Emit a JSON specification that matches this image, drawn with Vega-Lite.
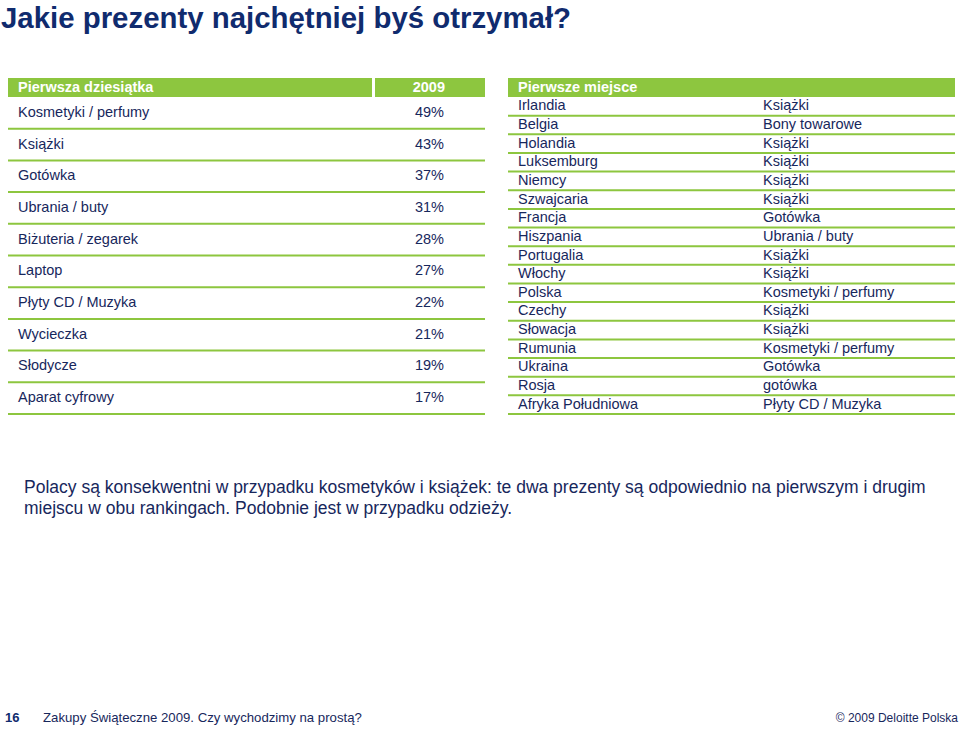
{
  "$schema": "https://vega.github.io/schema/vega-lite/v6.json",
  "padding": {"top": 3, "left": 0, "right": 0, "bottom": 0},
  "background": "white",
  "title": {
    "text": "Jakie prezenty najchętniej byś otrzymał?",
    "anchor": "start",
    "font": "Liberation Sans",
    "fontSize": 29.4,
    "fontWeight": "bold",
    "color": "#102b6e",
    "offset": 44,
    "dx": 1
  },
  "config": {
    "view": {"stroke": null},
    "text": {"font": "Liberation Sans", "fontSize": 14.5, "fill": "#17275c", "baseline": "middle"}
  },
  "spacing": 0,
  "resolve": {"scale": {"x": "independent", "y": "independent"}},
  "vconcat": [
    {
      "spacing": 0,
      "resolve": {"scale": {"x": "independent", "y": "independent"}},
      "hconcat": [
        {
          "width": 496,
          "height": 19,
          "data": {"values": [{"naglowek": "Pierwsza dziesiątka", "rok": "2009"}]},
          "layer": [
            {
              "mark": {"type": "rect", "fill": "#8dc63f"},
              "encoding": {
                "x": {"datum": 8, "type": "quantitative", "scale": {"domain": [0, 496], "nice": false, "zero": false}, "axis": null},
                "x2": {"datum": 372}
              }
            },
            {
              "mark": {"type": "rect", "fill": "#8dc63f"},
              "encoding": {
                "x": {"datum": 375, "type": "quantitative"},
                "x2": {"datum": 485}
              }
            },
            {
              "mark": {"type": "text", "align": "left", "fill": "white", "fontWeight": "bold"},
              "encoding": {"x": {"datum": 18, "type": "quantitative"}, "text": {"field": "naglowek"}}
            },
            {
              "mark": {"type": "text", "align": "right", "fill": "white", "fontWeight": "bold"},
              "encoding": {"x": {"datum": 445, "type": "quantitative"}, "text": {"field": "rok"}}
            }
          ]
        },
        {
          "width": 464,
          "height": 19,
          "data": {"values": [{"naglowek": "Pierwsze miejsce"}]},
          "layer": [
            {
              "mark": {"type": "rect", "fill": "#8dc63f"},
              "encoding": {
                "x": {"datum": 12, "type": "quantitative", "scale": {"domain": [0, 464], "nice": false, "zero": false}, "axis": null},
                "x2": {"datum": 459}
              }
            },
            {
              "mark": {"type": "text", "align": "left", "fill": "white", "fontWeight": "bold"},
              "encoding": {"x": {"datum": 22, "type": "quantitative"}, "text": {"field": "naglowek"}}
            }
          ]
        }
      ]
    },
    {
      "spacing": 0,
      "resolve": {"scale": {"x": "independent", "y": "independent"}},
      "hconcat": [
        {
          "width": 496,
          "height": 317,
          "data": {"values": [
            {"prezent": "Kosmetyki / perfumy", "udzial": 0.49},
            {"prezent": "Książki", "udzial": 0.43},
            {"prezent": "Gotówka", "udzial": 0.37},
            {"prezent": "Ubrania / buty", "udzial": 0.31},
            {"prezent": "Biżuteria / zegarek", "udzial": 0.28},
            {"prezent": "Laptop", "udzial": 0.27},
            {"prezent": "Płyty CD / Muzyka", "udzial": 0.22},
            {"prezent": "Wycieczka", "udzial": 0.21},
            {"prezent": "Słodycze", "udzial": 0.19},
            {"prezent": "Aparat cyfrowy", "udzial": 0.17}
          ]},
          "encoding": {
            "y": {"field": "prezent", "type": "nominal", "sort": null, "axis": null, "scale": {"type": "band", "paddingInner": 0, "paddingOuter": 0}}
          },
          "layer": [
            {
              "mark": {"type": "rule", "stroke": "#8dc63f", "strokeWidth": 2},
              "encoding": {
                "y": {"field": "prezent", "type": "nominal", "sort": null, "bandPosition": 1},
                "x": {"datum": 8, "type": "quantitative", "scale": {"domain": [0, 496], "nice": false, "zero": false}, "axis": null},
                "x2": {"datum": 485}
              }
            },
            {
              "mark": {"type": "text", "align": "left"},
              "encoding": {"x": {"datum": 18, "type": "quantitative"}, "text": {"field": "prezent"}}
            },
            {
              "mark": {"type": "text", "align": "right"},
              "encoding": {"x": {"datum": 444, "type": "quantitative"}, "text": {"field": "udzial", "type": "quantitative", "format": ".0%"}}
            }
          ]
        },
        {
          "width": 464,
          "height": 317,
          "data": {"values": [
            {"kraj": "Irlandia", "prezent": "Książki"},
            {"kraj": "Belgia", "prezent": "Bony towarowe"},
            {"kraj": "Holandia", "prezent": "Książki"},
            {"kraj": "Luksemburg", "prezent": "Książki"},
            {"kraj": "Niemcy", "prezent": "Książki"},
            {"kraj": "Szwajcaria", "prezent": "Książki"},
            {"kraj": "Francja", "prezent": "Gotówka"},
            {"kraj": "Hiszpania", "prezent": "Ubrania / buty"},
            {"kraj": "Portugalia", "prezent": "Książki"},
            {"kraj": "Włochy", "prezent": "Książki"},
            {"kraj": "Polska", "prezent": "Kosmetyki / perfumy"},
            {"kraj": "Czechy", "prezent": "Książki"},
            {"kraj": "Słowacja", "prezent": "Książki"},
            {"kraj": "Rumunia", "prezent": "Kosmetyki / perfumy"},
            {"kraj": "Ukraina", "prezent": "Gotówka"},
            {"kraj": "Rosja", "prezent": "gotówka"},
            {"kraj": "Afryka Południowa", "prezent": "Płyty CD / Muzyka"}
          ]},
          "encoding": {
            "y": {"field": "kraj", "type": "nominal", "sort": null, "axis": null, "scale": {"type": "band", "paddingInner": 0, "paddingOuter": 0}}
          },
          "layer": [
            {
              "mark": {"type": "rule", "stroke": "#8dc63f", "strokeWidth": 2},
              "encoding": {
                "y": {"field": "kraj", "type": "nominal", "sort": null, "bandPosition": 1},
                "x": {"datum": 12, "type": "quantitative", "scale": {"domain": [0, 464], "nice": false, "zero": false}, "axis": null},
                "x2": {"datum": 459}
              }
            },
            {
              "mark": {"type": "text", "align": "left"},
              "encoding": {"x": {"datum": 22, "type": "quantitative"}, "text": {"field": "kraj"}}
            },
            {
              "mark": {"type": "text", "align": "left"},
              "encoding": {"x": {"datum": 267, "type": "quantitative"}, "text": {"field": "prezent"}}
            }
          ]
        }
      ]
    },
    {
      "spacing": 145,
      "resolve": {"scale": {"x": "independent", "y": "independent"}},
      "vconcat": [
        {
          "width": 960,
          "height": 145,
          "data": {"values": [{"wniosek": ["Polacy są konsekwentni w przypadku kosmetyków i książek: te dwa prezenty są odpowiednio na pierwszym i drugim", "miejscu w obu rankingach. Podobnie jest w przypadku odzieży."]}]},
          "mark": {"type": "text", "align": "left", "fontSize": 17.5, "lineHeight": 21, "fill": "#17275c"},
          "encoding": {
            "x": {"datum": 24, "type": "quantitative", "scale": {"domain": [0, 960], "nice": false, "zero": false}, "axis": null},
            "text": {"field": "wniosek"}
          }
        },
        {
          "width": 960,
          "height": 26,
          "data": {"values": [{"strona": "16", "tytul": "Zakupy Świąteczne 2009. Czy wychodzimy na prostą?", "prawa": "© 2009 Deloitte Polska"}]},
          "layer": [
            {
              "mark": {"type": "text", "align": "left", "fontSize": 13, "fontWeight": "bold", "fill": "#102b6e"},
              "encoding": {
                "x": {"datum": 5, "type": "quantitative", "scale": {"domain": [0, 960], "nice": false, "zero": false}, "axis": null},
                "text": {"field": "strona"}
              }
            },
            {
              "mark": {"type": "text", "align": "left", "fontSize": 13.2, "fill": "#17275c"},
              "encoding": {"x": {"datum": 43, "type": "quantitative"}, "text": {"field": "tytul"}}
            },
            {
              "mark": {"type": "text", "align": "right", "fontSize": 12, "fill": "#17275c"},
              "encoding": {"x": {"datum": 958, "type": "quantitative"}, "text": {"field": "prawa"}}
            }
          ]
        }
      ]
    }
  ]
}
